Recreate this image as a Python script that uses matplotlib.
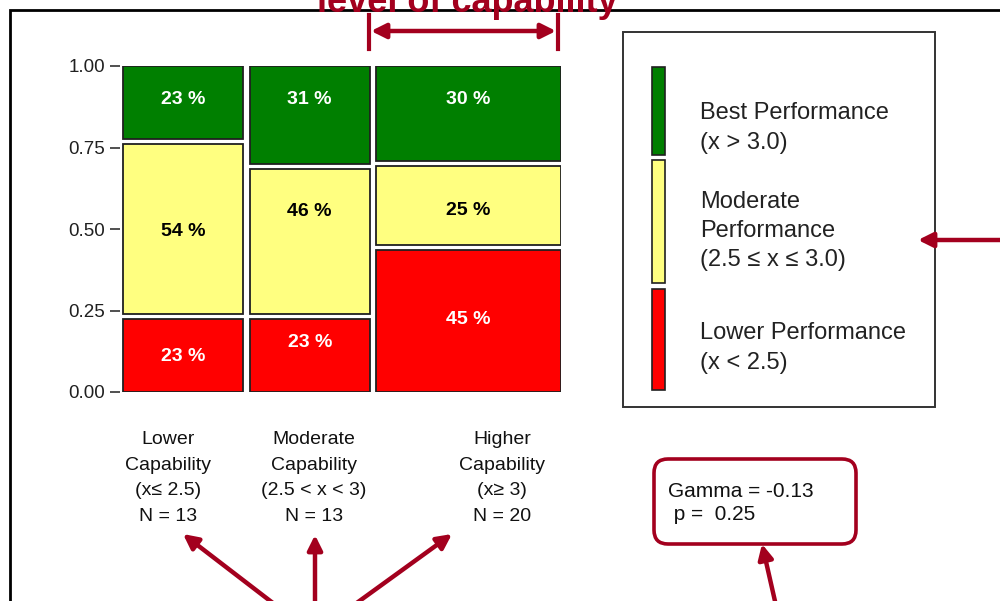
import matplotlib.pyplot as plt
import numpy as np
from matplotlib.patches import Rectangle, FancyBboxPatch

plt.rcParams['font.family'] = ['Liberation Sans', 'DejaVu Sans']

# DATA.
groups = ["Lower\nCapability\n(x\u2264 2.5)\nN = 13",
          "Moderate\nCapability\n(2.5 < x < 3)\nN = 13",
          "Higher\nCapability\n(x\u2265 3)\nN = 20"]
n_obs = np.array([13, 13, 20])
# shares per group, bottom -> top: lower, moderate, best performance
pct_lower = np.array([23, 23, 45])
pct_moderate = np.array([54, 46, 25])
pct_best = np.array([23, 31, 30])
levels = ["Lower Performance\n(x < 2.5)",
          "Moderate\nPerformance\n(2.5 \u2264 x \u2264 3.0)",
          "Best Performance\n(x > 3.0)"]
gamma = -0.13
p_value = 0.25

# STYLE.
colors = ["#FF0000", "#FFFF80", "#007F00"]
txt_colors = ["white", "black", "white"]
DARKRED = "#A3001E"
gap_x, gap_y = 0.015, 0.016
# label heights inside tiles (data units), per row then column
label_y = [[0.110, 0.153, 0.221], [0.491, 0.555, 0.558], [0.896, 0.896, 0.896]]

fig = plt.figure(figsize=(10, 6.01), dpi=100)

# overlay in pixel coordinates
ov = fig.add_axes([0, 0, 1, 1], zorder=0)
ov.set_xlim(0, 1000)
ov.set_ylim(601, 0)
ov.axis("off")

# MOSAIC.
ax = fig.add_axes([120 / 1000, (601 - 392) / 601, 441 / 1000, 326 / 601], zorder=2)
ax.patch.set_alpha(0)
widths = n_obs / n_obs.sum() * (1 - gap_x * (len(n_obs) - 1))
lefts = np.concatenate([[0], np.cumsum(widths + gap_x)[:-1]])
rows = [pct_lower, pct_moderate, pct_best]
bottom = np.zeros(len(n_obs))
for r, vals in enumerate(rows):
    h = vals / 100 * (1 - 2 * gap_y)
    ax.bar(lefts, h, width=widths, bottom=bottom, align="edge",
           color=colors[r], edgecolor="#202020", linewidth=1.3)
    for c in range(len(n_obs)):
        ax.text(lefts[c] + widths[c] / 2, label_y[r][c], f"{vals[c]} %",
                ha="center", va="center", fontsize=14, fontweight="bold",
                color=txt_colors[r])
    bottom = bottom + h + gap_y

ax.set_xlim(-0.007, 1.0)
ax.set_ylim(0, 1)
ax.set_yticks([0, 0.25, 0.5, 0.75, 1.0])
ax.set_yticklabels([f"{v:.2f}" for v in [0, 0.25, 0.5, 0.75, 1.0]], fontsize=13.5)
ax.set_xticks([])
ax.tick_params(axis="y", length=7.5, width=1.1, pad=3, colors="#202020")
for s in ax.spines.values():
    s.set_visible(False)

# group labels
for x, g in zip([168, 314, 502], groups):
    ov.text(x, 478, g, ha="center", va="center", fontsize=14,
            linespacing=1.65, color="#111111")

# LEGEND.
ov.add_patch(Rectangle((623, 32), 312, 375, fill=False, lw=1.4, ec="#333333"))
for (y0, y1), col in zip([(289, 390), (160, 283), (67, 155)], colors):
    ov.add_patch(Rectangle((652, y0), 13, y1 - y0, fc=col, ec="#202020", lw=1.2))
for y, lab in zip([348, 231, 128], levels):
    ov.text(700, y, lab, ha="left", va="center", fontsize=17,
            linespacing=1.44, color="#222222")

# GAMMA BOX.
ov.add_patch(FancyBboxPatch((660, 465), 190, 73, boxstyle="round,pad=6,rounding_size=14",
                            fc="white", ec=DARKRED, lw=2.6))
ov.text(668, 503, f"Gamma = {gamma:.2f}\n p =  {p_value:.2f}", ha="left",
        va="center", fontsize=15, linespacing=1.32, color="#111111")

# FRAME AND ANNOTATIONS.
ov.plot([10, 10, 1000], [601, 10, 10], color="black", lw=2, solid_joinstyle="miter")
ov.text(467, 12, "level of capability", ha="center", va="baseline",
        fontsize=26, fontweight="bold", color=DARKRED, zorder=5)
ov.plot([369, 369], [15, 49], color=DARKRED, lw=3)
ov.plot([558, 558], [15, 49], color=DARKRED, lw=3)
arrow = dict(arrowstyle="-|>", color=DARKRED, lw=3.2, mutation_scale=22, shrinkA=0, shrinkB=0)
ov.annotate("", xy=(371, 31), xytext=(556, 31),
            arrowprops=dict(arrow, arrowstyle="<|-|>"))
ov.annotate("", xy=(918, 240), xytext=(1005, 240), arrowprops=arrow)
for tip, tail in [((183, 534), (282, 610)), ((315, 535), (315, 610)),
                  ((452, 534), (347, 610)), ((762, 544), (777, 610))]:
    ov.annotate("", xy=tip, xytext=tail, arrowprops=arrow, annotation_clip=False)

plt.savefig("out.png", dpi=100)
